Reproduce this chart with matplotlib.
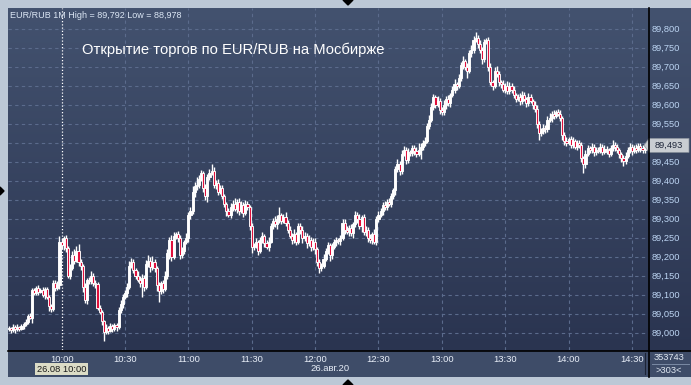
import numpy as np
import matplotlib.pyplot as plt
from matplotlib.colors import LinearSegmentedColormap
from matplotlib.patches import Polygon, Rectangle

plt.rcParams['font.family'] = ['Liberation Sans', 'DejaVu Sans']

# 1-minute EUR/RUB candles from 9:35, prices in thousandths above 89.000
closes = [
    12, 6, 15, 9, 14, 10, 18, 22, 28, 45,
    40, 112, 105, 118, 108, 112, 100, 115, 95, 70,
    62, 130, 118, 125, 240, 232, 250, 222, 150, 170,
    205, 190, 215, 185, 175, 120, 85, 140, 135, 150,
    130, 128, 65, 55, 30, 2, 12, 5, 18, 10,
    20, 15, 60, 75, 95, 105, 120, 175, 185, 165,
    150, 140, 130, 145, 120, 180, 190, 172, 185, 170,
    125, 110, 130, 115, 150, 210, 245, 200, 255, 260,
    250, 205, 215, 240, 250, 310, 320, 370, 385, 390,
    405, 420, 380, 360, 410, 420, 425, 390, 395, 370,
    380, 360, 340, 320, 310, 330, 340, 325, 345, 320,
    335, 315, 340, 330, 280, 225, 230, 240, 215, 245,
    255, 235, 225, 240, 280, 295, 285, 300, 310, 295,
    305, 290, 270, 255, 245, 260, 240, 280, 270, 250,
    255, 235, 245, 225, 240, 220, 185, 170, 175, 195,
    215, 230, 205, 225, 240, 245, 242, 250, 290, 270,
    265, 275, 262, 285, 310, 300, 280, 305, 265, 270,
    250, 245, 260, 240, 300, 310, 320, 335, 330, 345,
    340, 360, 375, 430, 445, 425, 470, 480, 455, 475,
    472, 485, 478, 470, 482, 490, 500, 505, 545, 560,
    595, 620, 600, 610, 585, 580, 600, 615, 605, 625,
    640, 655, 650, 670, 705, 715, 700, 690, 735, 745,
    770, 775, 760, 745, 720, 765, 770, 700, 660, 650,
    690, 680, 660, 655, 640, 650, 635, 650, 640, 625,
    615, 620, 610, 625, 615, 605, 620, 610, 600, 590,
    550, 525, 530, 540, 535, 560, 565, 575, 570, 580,
    575, 565, 520, 505, 500, 510, 495, 505, 490, 500,
    495, 460, 445, 470, 485, 480, 488, 475, 482, 478,
    490, 476, 484, 480, 470, 485, 495, 488, 480, 470,
    460, 452, 465, 480, 490, 478, 486, 482, 492, 485,
    480, 493,
]
upper_wick = [
    6, 4, 8, 5, 9, 4, 6, 5, 7, 5,
    8, 6, 5, 4, 7, 5, 9, 4, 6, 5,
    6, 10, 8, 12, 15, 10, 5, 8, 6, 12,
    10, 15, 12, 18, 8, 6, 10, 5, 7, 12,
    6, 9, 5, 8, 6, 4, 10, 6, 8, 5,
    5, 6, 8, 10, 6, 8, 12, 15, 11, 8,
    6, 12, 8, 10, 6, 12, 15, 10, 18, 8,
    5, 8, 6, 10, 12, 10, 8, 12, 10, 6,
    8, 6, 10, 5, 12, 8, 10, 15, 12, 20,
    10, 8, 6, 12, 8, 10, 19, 12, 8, 10,
    8, 10, 6, 5, 8, 12, 10, 15, 8, 10,
    12, 8, 10, 6, 5, 8, 6, 10, 5, 8,
    10, 6, 8, 12, 10, 8, 12, 10, 22, 6,
    8, 12, 6, 10, 8, 12, 6, 10, 8, 12,
    10, 8, 12, 6, 10, 8, 6, 10, 8, 12,
    8, 10, 6, 10, 6, 8, 5, 6, 10, 8,
    12, 8, 10, 6, 10, 8, 12, 6, 8, 10,
    8, 10, 6, 12, 8, 10, 8, 10, 12, 8,
    10, 8, 6, 10, 12, 8, 10, 12, 8, 10,
    6, 10, 8, 12, 18, 8, 6, 10, 8, 12,
    10, 8, 6, 12, 8, 10, 12, 8, 10, 6,
    8, 12, 6, 10, 8, 12, 6, 10, 8, 12,
    10, 17, 8, 10, 6, 8, 6, 8, 10, 6,
    10, 12, 8, 6, 10, 8, 12, 10, 6, 8,
    6, 8, 12, 10, 8, 6, 10, 8, 6, 10,
    8, 6, 10, 8, 6, 10, 12, 8, 10, 6,
    8, 10, 6, 8, 10, 6, 8, 10, 6, 8,
    6, 8, 6, 10, 8, 6, 10, 8, 6, 8,
    8, 6, 10, 8, 6, 10, 12, 6, 8, 6,
    6, 8, 10, 8, 10, 6, 8, 10, 6, 8,
    8, 6,
]
lower_wick = [
    5, 8, 4, 9, 5, 6, 4, 7, 5, 6,
    4, 15, 6, 5, 8, 4, 6, 10, 7, 12,
    8, 5, 9, 6, 10, 12, 14, 10, 5, 8,
    6, 8, 5, 10, 9, 12, 8, 10, 6, 8,
    8, 10, 6, 5, 9, 24, 6, 8, 4, 7,
    6, 10, 4, 8, 9, 6, 10, 5, 6, 7,
    8, 6, 10, 36, 10, 5, 8, 12, 6, 10,
    15, 30, 8, 10, 6, 8, 15, 10, 6, 9,
    10, 12, 8, 9, 6, 12, 10, 8, 14, 10,
    8, 6, 10, 12, 15, 8, 6, 10, 12, 8,
    6, 8, 10, 12, 6, 8, 10, 6, 9, 10,
    6, 10, 5, 8, 10, 15, 8, 6, 10, 5,
    8, 10, 6, 10, 5, 8, 6, 12, 10, 8,
    6, 10, 8, 6, 12, 10, 8, 6, 10, 15,
    8, 12, 6, 10, 8, 12, 10, 13, 8, 6,
    6, 8, 15, 10, 6, 12, 8, 10, 6, 10,
    6, 10, 8, 12, 8, 10, 6, 15, 8, 10,
    10, 8, 12, 6, 10, 8, 6, 10, 8, 6,
    6, 10, 8, 12, 6, 10, 8, 6, 12, 8,
    8, 6, 10, 8, 6, 25, 10, 8, 6, 10,
    6, 10, 8, 6, 10, 8, 6, 10, 8, 12,
    6, 8, 10, 6, 8, 10, 8, 20, 6, 10,
    8, 6, 10, 8, 12, 8, 6, 10, 8, 12,
    6, 8, 10, 12, 6, 10, 8, 6, 10, 8,
    8, 6, 10, 8, 6, 10, 8, 6, 12, 8,
    10, 18, 8, 6, 10, 8, 6, 10, 8, 6,
    6, 8, 12, 10, 8, 6, 10, 8, 6, 10,
    8, 10, 25, 12, 6, 8, 6, 10, 8, 6,
    6, 8, 6, 10, 8, 6, 8, 10, 6, 10,
    10, 12, 8, 6, 8, 10, 6, 8, 6, 10,
    6, 8,
]
first_open = 10

price_ticks = [89.000, 89.050, 89.100, 89.150, 89.200, 89.250, 89.300, 89.350, 89.400,
               89.450, 89.500, 89.550, 89.600, 89.650, 89.700, 89.750, 89.800]
price_labels = ['89,000', '89,050', '89,100', '89,150', '89,200', '89,250', '89,300', '89,350',
                '89,400', '89,450', '89,500', '89,550', '89,600', '89,650', '89,700', '89,750',
                '89,800']
time_ticks = [25, 55, 85, 115, 145, 175, 205, 235, 265, 295]   # minutes after 9:35
time_labels = ['10:00', '10:30', '11:00', '11:30', '12:00', '12:30', '13:00', '13:30',
               '14:00', '14:30']

W, H = 691, 385


def box(x0, y0, x1, y1):
    return [x0 / W, 1 - y1 / H, (x1 - x0) / W, (y1 - y0) / H]


fig = plt.figure(figsize=(W / 100, H / 100), dpi=100)
fig.patch.set_facecolor('#bcc8d6')

# dark gradient panel behind chart and price scale
bg = fig.add_axes(box(8, 8, 691, 351))
grad = np.linspace(0, 1, 256).reshape(-1, 1)
cmap = LinearSegmentedColormap.from_list('panel', ['#43526f', '#2a3450'])
bg.imshow(grad, aspect='auto', cmap=cmap, extent=[0, 1, 0, 1])
bg.set_axis_off()

# time axis strip
bot = fig.add_axes(box(8, 351, 691, 377))
bot.set_facecolor('#3e4c68')
bot.set_xticks([])
bot.set_yticks([])
for s in bot.spines.values():
    s.set_visible(False)

ax = fig.add_axes(box(8, 8, 648, 350))
ax.patch.set_alpha(0.0)
for s in ax.spines.values():
    s.set_visible(False)
ax.set_xlim(-0.38, 302.6)
ax.set_ylim(88.9545, 89.8545)

# grid
for p in price_ticks:
    ax.axhline(p, color='#5b6b8c', lw=0.8, dashes=(3, 3), zorder=1)
for t in time_ticks[1:]:
    ax.axvline(t, color='#5b6b8c', lw=0.8, dashes=(3, 3), zorder=1)
ax.axvline(time_ticks[0], color='white', lw=0.9, dashes=(1, 1.6), zorder=1)

# candles
c = 89 + np.array(closes) / 1000
o = np.concatenate([[89 + first_open / 1000], c[:-1]])
hi = np.maximum(o, c) + np.array(upper_wick) / 1000
lo = np.minimum(o, c) - np.array(lower_wick) / 1000
idx = np.arange(len(c))
ax.vlines(idx, lo, hi, color='white', lw=1.0, zorder=3)
body_bottom = np.minimum(o, c)
body_h = np.maximum(np.abs(c - o), 0.002)
colors = ['white' if cc >= oo else '#e0103c' for oo, cc in zip(o, c)]
ax.bar(idx, body_h, bottom=body_bottom, width=1.0, color=colors,
       edgecolor='white', linewidth=0.65, zorder=4)

# axes ticks
ax.yaxis.tick_right()
ax.set_yticks(price_ticks)
ax.set_yticklabels(price_labels)
ax.set_xticks(time_ticks)
ax.set_xticklabels(time_labels)
ax.tick_params(axis='y', length=0, pad=2.5, labelsize=6.7, labelcolor='#bcd4f2')
ax.tick_params(axis='x', length=0, pad=3.5, labelsize=6.8, labelcolor='#e8eef8')
# the 89,500 label sits under the last-price tag
ax.get_yticklabels()[price_labels.index('89,500')].set_visible(False)

# separators
fig.add_artist(plt.Line2D([648.5 / W, 648.5 / W], [1 - 8 / H, 1 - 377 / H], color='black', lw=1.2))
fig.add_artist(plt.Line2D([8 / W, 1], [1 - 350.5 / H, 1 - 350.5 / H], color='black', lw=1.2))
fig.add_artist(plt.Line2D([644.5 / W, 644.5 / W], [1 - 353 / H, 1 - 374 / H], color='#1c2436', lw=0.8))
fig.add_artist(plt.Line2D([652 / W, 689 / W], [1 - 364 / H, 1 - 364 / H], color='#7a8aa4', lw=0.7))

# texts
fig.text(10 / W, 1 - 15 / H, 'EUR/RUB 1M High = 89,792 Low = 88,978', fontsize=6.5,
         color='#dbe6f4', va='center', ha='left')
fig.text(82 / W, 1 - 50 / H, 'Открытие торгов по EUR/RUB на Мосбирже', fontsize=10.6,
         color='white', va='center', ha='left')
fig.text(669 / W, 1 - 357 / H, '353743', fontsize=6.7, color='#e0e8f2', ha='center', va='center')
fig.text(669 / W, 1 - 370.5 / H, '>303<', fontsize=6.7, color='#e0e8f2', ha='center', va='center')
fig.text(310 / W, 1 - 368.5 / H, '26.авг.20', fontsize=6.8, color='#e8eef8', ha='left', va='center')

# date cursor label
fig.add_artist(Rectangle((35 / W, 1 - 375 / H), 53 / W, 12 / H, transform=fig.transFigure,
                         facecolor='#dcdcc6', edgecolor='none'))
fig.text(61.5 / W, 1 - 369 / H, '26.08 10:00', fontsize=6.7, color='#1a1a1a', ha='center', va='center')

# last price tag
yl = 1 - (332.7 - closes[-1] / 1000 * 380) / H
fig.add_artist(Polygon([(644 / W, yl), (649 / W, yl + 7 / H), (689 / W, yl + 7 / H),
                        (689 / W, yl - 7 / H), (649 / W, yl - 7 / H)], closed=True,
                       transform=fig.transFigure, facecolor='#c9cdd2', edgecolor='#8a929c', lw=0.5))
fig.text(669 / W, yl, '89,' + str(closes[-1]), fontsize=6.7, color='#1c2438', ha='center', va='center')

# small window triangles
fig.add_artist(Polygon([(0, 1 - 187 / H), (4 / W, 1 - 191 / H), (0, 1 - 195 / H)], closed=True,
                       transform=fig.transFigure, color='black'))
fig.add_artist(Polygon([(343 / W, 1), (353 / W, 1), (348 / W, 1 - 5 / H)], closed=True,
                       transform=fig.transFigure, color='black'))
fig.add_artist(Polygon([(343 / W, 0), (353 / W, 0), (348 / W, 5 / H)], closed=True,
                       transform=fig.transFigure, color='black'))

fig.savefig('out.png', dpi=100)
